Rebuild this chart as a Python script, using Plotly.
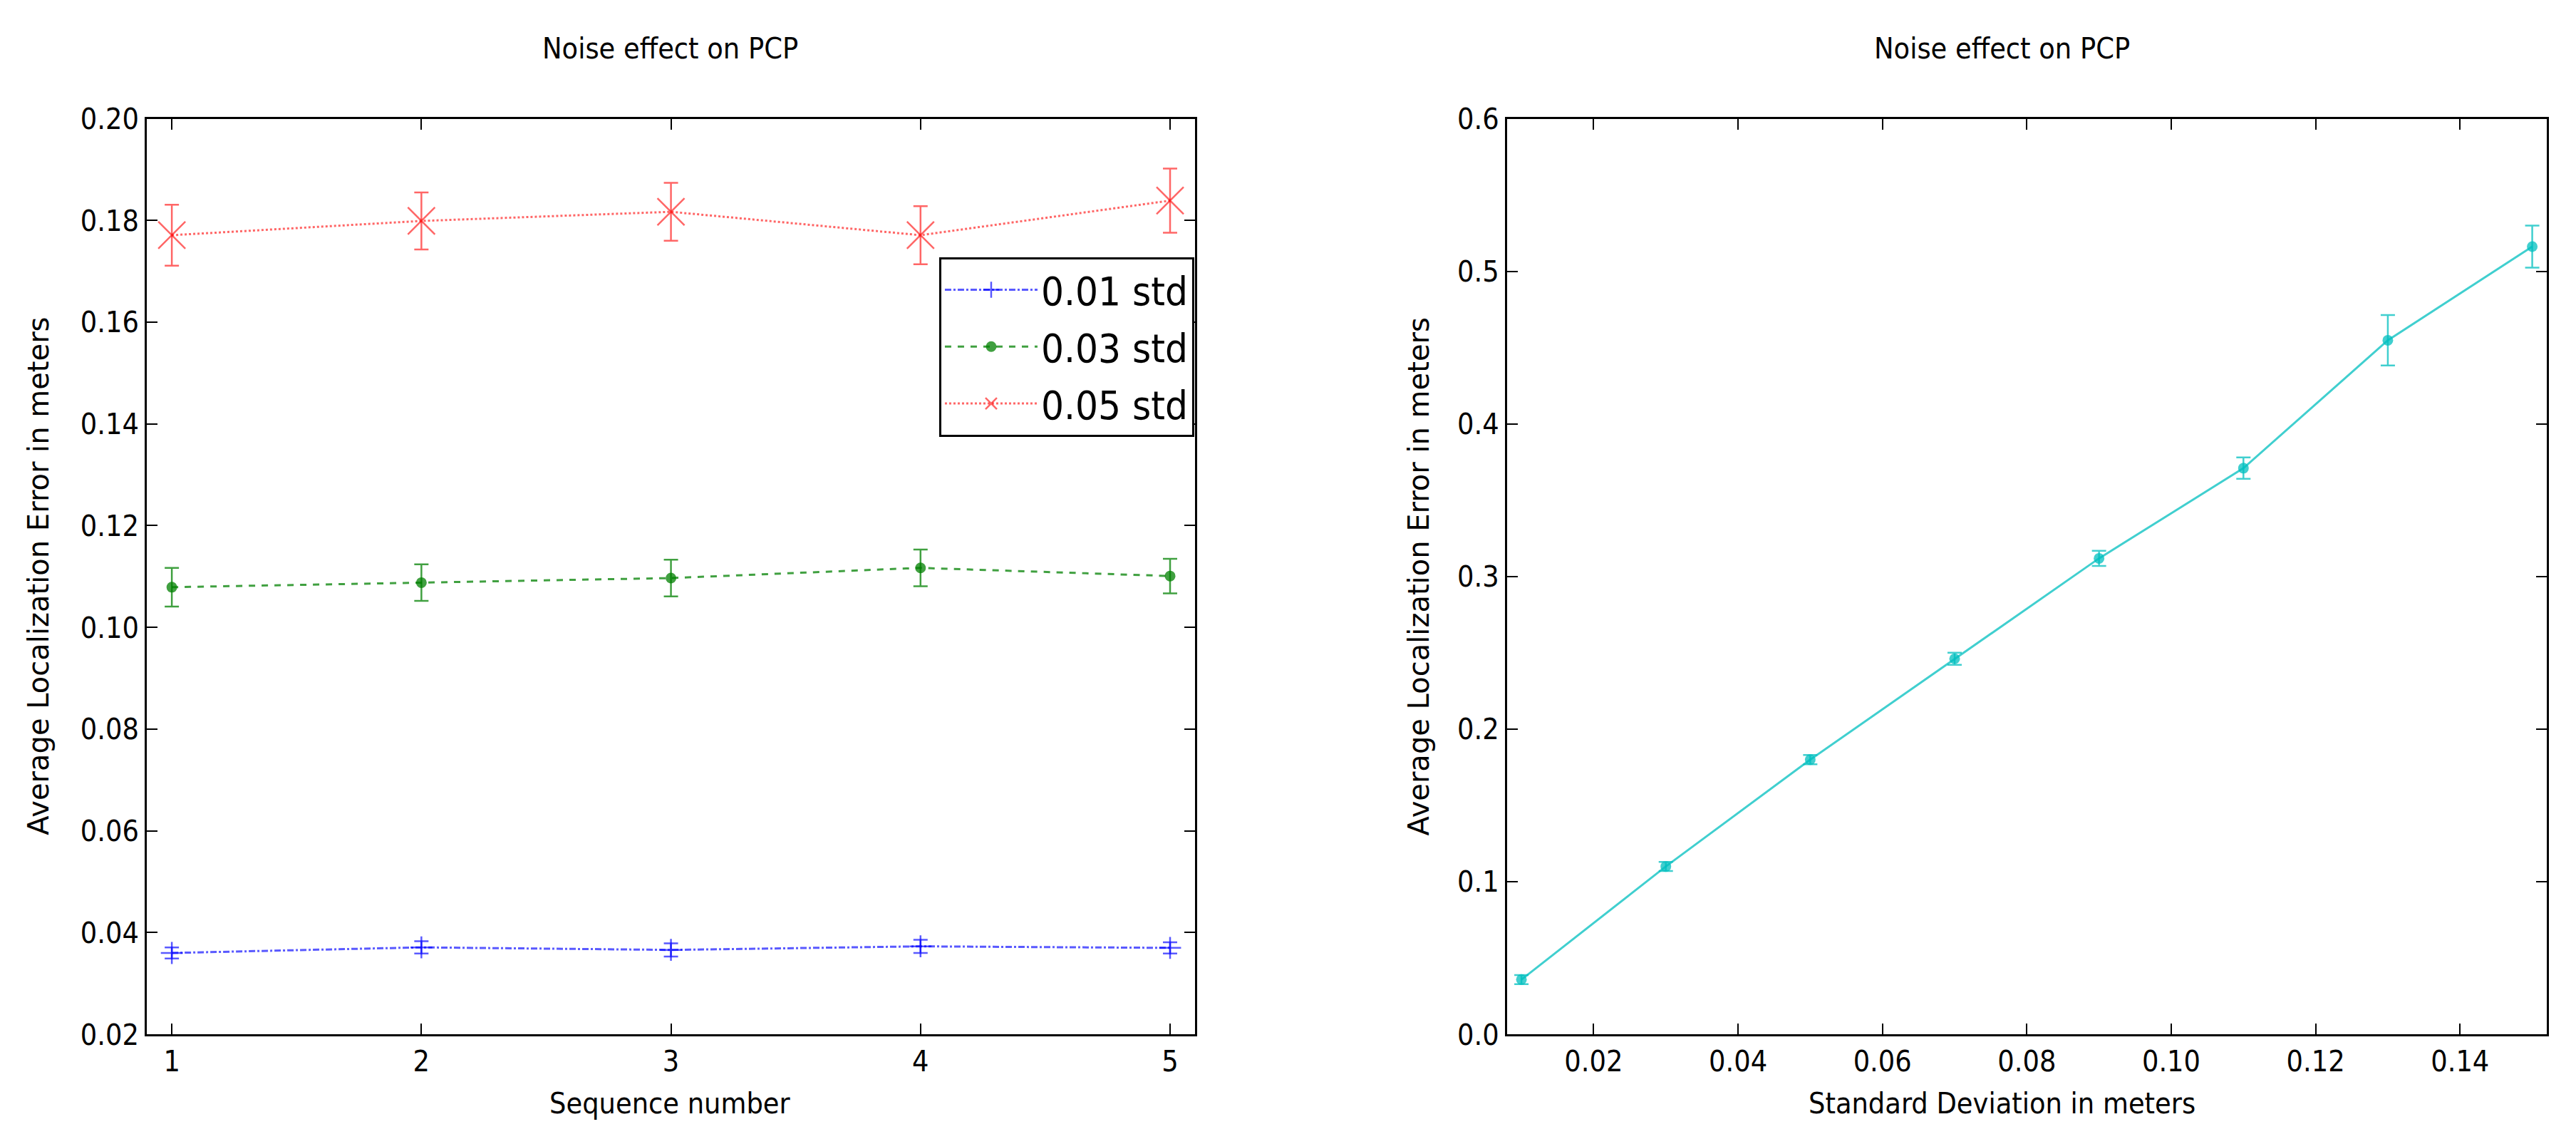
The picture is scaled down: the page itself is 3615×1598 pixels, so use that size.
import plotly.graph_objects as go

# left panel: error per sequence for three noise levels
sequences = [1, 2, 3, 4, 5]
err_001 = [0.0360, 0.0371, 0.0366, 0.0373, 0.0370]
std_001 = [0.0011, 0.0012, 0.0013, 0.0013, 0.0011]
err_003 = [0.1079, 0.1088, 0.1097, 0.1117, 0.1101]
std_003 = [0.0038, 0.0036, 0.0036, 0.0036, 0.0034]
err_005 = [0.1771, 0.1799, 0.1817, 0.1771, 0.1839]
std_005 = [0.0060, 0.0056, 0.0057, 0.0057, 0.0063]

# right panel: error vs noise std
noise_std = [0.01, 0.03, 0.05, 0.07, 0.09, 0.11, 0.13, 0.15]
noise_err = [0.0359, 0.1100, 0.1800, 0.2461, 0.3119, 0.3710, 0.4548, 0.5162]
noise_dev = [0.0030, 0.0030, 0.0030, 0.0040, 0.0050, 0.0070, 0.0165, 0.0138]

FONT = "DejaVu Sans Condensed, DejaVu Sans"
TICK_SIZE = 41

fig = go.Figure()

fig.add_trace(go.Scatter(
    x=sequences, y=err_001, name='0.01 std', mode='lines+markers', legendgroup='a',
    line=dict(color='rgba(0,0,255,0.65)', width=3, dash='dashdot'),
    marker=dict(symbol='cross-thin-open', size=22, line=dict(color='rgba(0,0,255,0.65)', width=2.5)),
    error_y=dict(type='data', array=std_001, color='rgba(0,0,255,0.65)', thickness=2.5, width=10),
    xaxis='x', yaxis='y'))

fig.add_trace(go.Scatter(
    x=sequences, y=err_003, name='0.03 std', mode='lines+markers', legendgroup='b',
    line=dict(color='rgba(0,128,0,0.75)', width=3, dash='dash'),
    marker=dict(symbol='circle', size=15, color='rgba(0,128,0,0.75)'),
    error_y=dict(type='data', array=std_003, color='rgba(0,128,0,0.75)', thickness=2.5, width=10),
    xaxis='x', yaxis='y'))

fig.add_trace(go.Scatter(
    x=sequences, y=err_005, name='0.05 std', mode='lines+markers', legendgroup='c',
    line=dict(color='rgba(255,0,0,0.6)', width=3, dash='dot'),
    marker=dict(symbol='x-thin-open', size=38, line=dict(color='rgba(255,0,0,0.6)', width=2.5)),
    error_y=dict(type='data', array=std_005, color='rgba(255,0,0,0.6)', thickness=2.5, width=10),
    xaxis='x', yaxis='y'))

fig.add_trace(go.Scatter(
    x=noise_std, y=noise_err, name='noise', mode='lines+markers', showlegend=False,
    line=dict(color='rgba(0,191,191,0.75)', width=3),
    marker=dict(symbol='circle', size=15, color='rgba(0,191,191,0.75)'),
    error_y=dict(type='data', array=noise_dev, color='rgba(0,191,191,0.75)', thickness=2.5, width=10),
    xaxis='x2', yaxis='y2'))

axis_style = dict(
    showgrid=False, zeroline=False, showline=True, linecolor='black', linewidth=3,
    mirror='ticks', ticks='inside', ticklen=15, tickwidth=2, tickcolor='black',
    tickfont=dict(family=FONT, size=TICK_SIZE, color='black'),
)

Y_DOM = [0.0844, 0.9132]

fig.update_layout(
    width=3615, height=1598,
    paper_bgcolor='white', plot_bgcolor='white',
    margin=dict(l=0, r=0, t=0, b=0),
    font=dict(family=FONT, color='black'),
    xaxis=dict(domain=[0.0548, 0.4617], range=[0.9, 5.1], tickvals=sequences, anchor='y', **axis_style),
    yaxis=dict(domain=Y_DOM, range=[0.02, 0.20], dtick=0.02, tickformat='.2f', anchor='x', **axis_style),
    xaxis2=dict(domain=[0.5828, 0.9864], range=[0.008, 0.152], tick0=0.02, dtick=0.02, tickformat='.2f',
                anchor='y2', **axis_style),
    yaxis2=dict(domain=Y_DOM, range=[0.0, 0.6], dtick=0.1, tickformat='.1f', anchor='x2', **axis_style),
    legend=dict(x=0.4614, y=0.788, xanchor='right', yanchor='top', bgcolor='white',
                bordercolor='black', borderwidth=3, font=dict(family=FONT, size=56, color='black'),
                itemwidth=130, tracegroupgap=4, traceorder='grouped'),
    showlegend=True,
)

annotations = [
    dict(text='Noise effect on PCP', x=0.258, y=0.977),
    dict(text='Noise effect on PCP', x=0.775, y=0.977),
    dict(text='Sequence number', x=0.258, y=0.022),
    dict(text='Standard Deviation in meters', x=0.775, y=0.022),
]
for a in annotations:
    fig.add_annotation(xref='paper', yref='paper', showarrow=False, xanchor='center', yanchor='middle',
                       font=dict(family=FONT, size=41, color='black'), **a)

for xpos in [0.0125, 0.5485]:
    fig.add_annotation(xref='paper', yref='paper', showarrow=False, xanchor='center', yanchor='middle',
                       text='Average Localization Error in meters', x=xpos, y=0.499, textangle=-90,
                       font=dict(family='DejaVu Sans', size=40, color='black'))

fig.write_html("out.html")
